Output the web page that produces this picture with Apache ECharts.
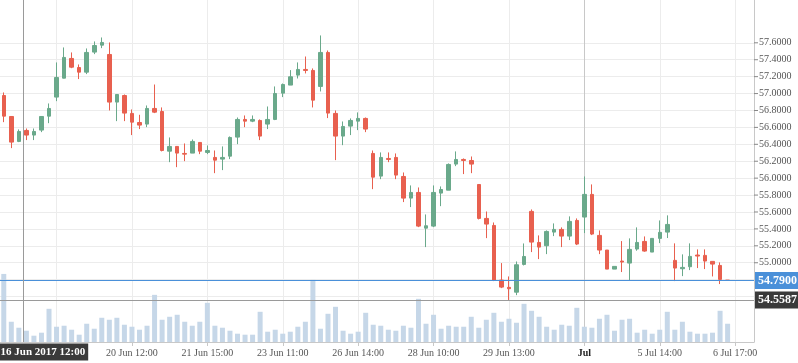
<!DOCTYPE html>
<html><head><meta charset="utf-8">
<script src="https://cdn.jsdelivr.net/npm/echarts@6/dist/echarts.min.js"></script>
<style>html,body{margin:0;padding:0;background:#fff}#c{width:798px;height:363px}</style>
</head><body><div id="c"></div>
<script>
// candle values: [open, close, low, high]
const ohlc = [
[56.977,56.733,56.662,57.013],[56.729,56.426,56.355,56.73],[56.434,56.552,56.426,56.576],[56.564,56.509,56.45,56.587],
[56.509,56.552,56.45,56.587],[56.568,56.729,56.544,56.73],[56.733,56.824,56.65,56.883],[56.958,57.19,56.91,57.368],
[57.182,57.427,57.18,57.545],[57.415,57.312,57.30,57.486],[57.308,57.253,57.171,57.344],[57.253,57.486,57.23,57.533],
[57.49,57.568,57.466,57.616],[57.572,57.604,57.537,57.663],[57.462,56.899,56.80,57.604],[56.899,56.989,56.674,56.99],
[56.977,56.769,56.674,56.989],[56.765,56.662,56.509,56.812],[56.658,56.627,56.58,56.749],[56.639,56.824,56.603,56.859],
[56.824,56.78,56.769,57.107],[56.788,56.327,56.316,56.836],[56.319,56.375,56.189,56.481],[56.375,56.296,56.13,56.375],
[56.292,56.284,56.201,56.41],[56.296,56.434,56.296,56.457],[56.422,56.319,56.284,56.422],[56.304,56.327,56.284,56.386],
[56.245,56.213,56.059,56.327],[56.225,56.245,56.095,56.375],[56.26,56.481,56.225,56.493],[56.485,56.694,56.402,56.717],
[56.694,56.674,56.603,56.741],[56.674,56.694,56.662,56.741],[56.682,56.497,56.45,56.694],[56.639,56.694,56.58,56.847],
[56.694,57.001,56.686,57.084],[57.005,57.107,56.958,57.119],[57.10,57.198,57.10,57.277],[57.218,57.285,57.178,57.368],
[57.285,57.273,57.238,57.438],[57.273,56.922,56.836,57.297],[57.084,57.486,57.025,57.687],[57.486,56.769,56.71,57.509],
[56.765,56.497,56.213,56.80],[56.497,56.611,56.39,56.67],[56.615,56.682,56.509,56.706],[56.674,56.706,56.568,56.777],
[56.706,56.58,56.544,56.717],[56.292,56.012,55.87,56.327],[56.024,56.245,55.988,56.304],[56.233,56.221,56.189,56.304],
[56.245,56.036,55.988,56.292],[56.02,55.764,55.717,56.067],[55.764,55.831,55.658,55.914],[55.831,55.433,55.421,55.89],
[55.409,55.437,55.185,55.571],[55.433,55.831,55.421,55.914],[55.823,55.866,55.669,55.902],[55.858,56.162,55.858,56.174],
[56.166,56.221,56.142,56.316],[56.221,56.209,56.048,56.233],[56.209,56.166,56.059,56.256],[55.925,55.524,55.512,55.925],
[55.524,55.457,55.291,55.606],[55.441,54.795,54.783,55.476],[54.795,54.712,54.70,54.996],[54.709,54.693,54.56,54.838],
[54.652,54.976,54.617,55.015],[54.98,55.074,54.968,55.228],[55.607,55.244,55.126,55.63],[55.24,55.185,55.043,55.323],
[55.201,55.37,55.102,55.382],[55.362,55.394,55.315,55.465],[55.394,55.315,55.185,55.418],[55.315,55.489,55.268,55.548],
[55.50,55.221,55.209,55.524],[55.54,55.808,55.351,56.02],[55.808,55.339,55.327,55.926],[55.323,55.15,55.102,55.382],
[55.15,54.925,54.925,55.15],[54.925,54.957,54.925,54.957],[55.02,55.008,54.89,55.256],[54.996,55.158,54.787,55.288],
[55.162,55.24,55.142,55.418],[55.252,55.138,55.13,55.311],[55.126,55.288,55.126,55.292],[55.288,55.359,55.232,55.50],
[55.362,55.453,55.292,55.56],[55.028,54.937,54.783,55.229],[54.929,54.945,54.842,55.099],[54.953,55.075,54.913,55.229],
[55.091,55.079,54.937,55.158],[55.087,55.02,54.925,55.158],[55.016,54.984,54.838,55.016],[54.968,54.803,54.748,55.004],
[54.795,54.79,54.788,54.795]
];
const volume = [205,61,43,34,19,28,100,46,49,37,22,55,40,73,67,73,52,46,37,49,
142,67,76,82,61,49,61,118,49,43,34,25,22,22,91,31,37,25,31,46,
61,187,40,85,106,34,25,31,88,52,49,37,34,49,43,130,55,82,40,49,
46,46,76,43,67,88,61,70,58,115,94,76,46,37,52,49,103,46,43,70,
82,34,67,70,28,37,25,37,91,37,61,31,25,25,28,94,55];
const slotCount = 100;                 // candle slots on the time axis (incl. right padding)
const gridSlots = [7,17,27,37,47,57,67,87,97];
const tickSlots = [17,27,37,47,57,67,77,87,97];
const tickLabels = ['20 Jun 12:00','21 Jun 15:00','23 Jun 11:00','26 Jun 14:00','28 Jun 10:00','29 Jun 13:00','Jul','5 Jul 14:00','6 Jul 17:00'];
const monthSlot = 77;
const priceMin = 54.4, priceMax = 57.6, priceStep = 0.2, priceGridMin = 54.6, priceLabelMin = 55.0;
const volumeMax = 1030;
const lastPrice = 54.79;
const crosshairPrice = 54.5587;
const crosshairSlot = 2.6;
const crosshairTime = '16 Jun 2017 12:00';

const cats = [];
for (let i = 0; i < slotCount; i++) cats.push('s' + i);
const labelAt = {};
tickSlots.forEach((s, j) => { labelAt[s] = tickLabels[j]; });

// horizontal grid line colours, one per price tick from priceMin upward
const hLineColors = [];
for (let p = priceMin; p <= priceMax + 1e-9; p += priceStep) hLineColors.push(p < priceGridMin - 1e-6 ? 'rgba(0,0,0,0)' : '#ececec');

const GREEN = '#6aa98b', RED = '#e8604f', BLUE = '#4a90d9', DARK = '#3a3a3a', CROSS = '#9a9a9a';
const FONT = 'Liberation Serif';
const boxLabel = (bg) => ({show: true, position: 'end', distance: 1, backgroundColor: bg, color: '#fff',
  fontFamily: FONT, fontSize: 12, fontWeight: 'bold', padding: [3, 3, 2, 3]});

const chart = echarts.init(document.getElementById('c'), null, {renderer: 'canvas'});
chart.setOption({
  animation: false,
  backgroundColor: '#fff',
  grid: [
    {left: 0, right: 44, top: 42.8, height: 270.7},
    {left: 0, right: 44, top: 0, bottom: 21}
  ],
  xAxis: [
    {type: 'category', gridIndex: 0, data: cats, boundaryGap: true, show: false},
    {type: 'category', gridIndex: 1, data: cats, boundaryGap: true,
      axisLine: {show: true, onZero: false, lineStyle: {color: '#c8c8c8', width: 1}},
      axisTick: {show: true, alignWithLabel: true, length: 4, interval: (i) => labelAt[i] !== undefined, lineStyle: {color: '#c8c8c8'}},
      axisLabel: {show: true, interval: (i) => labelAt[i] !== undefined, margin: 6,
        color: '#555', fontFamily: FONT, fontSize: 10,
        formatter: (v, i) => { const t = labelAt[i]; if (t === undefined) return ''; return i === monthSlot ? '{b|' + t + '}' : t; },
        rich: {b: {fontFamily: FONT, fontSize: 10, fontWeight: 'bold', color: '#222'}}},
      splitLine: {show: false}
    },
    {type: 'value', gridIndex: 1, min: -0.5, max: slotCount - 0.5, show: false, axisLine: {onZero: false}}
  ],
  yAxis: [
    {type: 'value', gridIndex: 0, position: 'right', min: priceMin, max: priceMax, interval: priceStep,
      axisLine: {show: false, onZero: false},
      axisTick: {show: false},
      axisLabel: {show: true, margin: 0, color: '#555', fontFamily: FONT, fontSize: 10,
        formatter: (v) => v >= priceLabelMin - 0.01 ? '{t| }{v|' + v.toFixed(4) + '}' : '',
        rich: {
          t: {width: 4, height: 1, backgroundColor: '#888', fontSize: 10},
          v: {fontFamily: FONT, fontSize: 10, color: '#555', padding: [0, 0, 0, 1]}
        }},
      splitLine: {show: true, lineStyle: {color: hLineColors, width: 1}}
    },
    {type: 'value', gridIndex: 1, position: 'right', min: 0, max: volumeMax,
      axisLine: {show: true, onZero: false, lineStyle: {color: '#c8c8c8', width: 1}},
      axisTick: {show: false}, axisLabel: {show: false}, splitLine: {show: false}
    }
  ],
  series: [
    {type: 'line', xAxisIndex: 2, yAxisIndex: 1, data: [], silent: true, z: 1,
      markLine: {silent: true, z: 1, symbol: ['none', 'none'], animation: false,
        lineStyle: {color: '#ececec', width: 1, type: 'solid'}, label: {show: false},
        data: gridSlots.map(s => ({xAxis: s}))}
    },
    {type: 'line', xAxisIndex: 2, yAxisIndex: 1, data: [], silent: true, z: 1,
      markLine: {silent: true, z: 1, symbol: ['none', 'none'], animation: false,
        lineStyle: {color: '#c8c8c8', width: 1, type: 'solid'}, label: {show: false},
        data: [{xAxis: monthSlot}]}
    },
    {type: 'bar', xAxisIndex: 1, yAxisIndex: 1, data: volume, barWidth: 5, silent: true,
      itemStyle: {color: '#c6d7e8'}},
    {type: 'candlestick', xAxisIndex: 0, yAxisIndex: 0, data: ohlc, barWidth: 4, clip: false, silent: true,
      itemStyle: {color: GREEN, color0: RED, borderColor: GREEN, borderColor0: RED, borderWidth: 1}},
    {type: 'line', xAxisIndex: 0, yAxisIndex: 0, data: [], silent: true,
      markLine: {silent: true, symbol: ['none', 'none'], animation: false,
        lineStyle: {color: BLUE, width: 1, type: 'solid'},
        label: Object.assign(boxLabel(BLUE), {formatter: lastPrice.toFixed(4)}),
        data: [{yAxis: lastPrice}]}
    },
    {type: 'line', xAxisIndex: 0, yAxisIndex: 0, data: [], silent: true,
      markLine: {silent: true, symbol: ['none', 'none'], animation: false,
        lineStyle: {color: CROSS, width: 1, type: 'solid'},
        label: Object.assign(boxLabel(DARK), {formatter: crosshairPrice.toFixed(4)}),
        data: [{yAxis: crosshairPrice}]}
    },
    {type: 'line', xAxisIndex: 2, yAxisIndex: 1, data: [], silent: true,
      markLine: {silent: true, symbol: ['none', 'none'], animation: false,
        lineStyle: {color: CROSS, width: 1, type: 'solid'}, label: {show: false},
        data: [{xAxis: crosshairSlot}]},
      markPoint: {silent: true, animation: false, symbol: 'rect', symbolSize: 1, itemStyle: {color: 'rgba(0,0,0,0)'},
        data: [{coord: [crosshairSlot, 0], value: 0,
          label: {show: true, position: 'bottom', distance: 1, offset: [19.5, 0], formatter: crosshairTime,
            backgroundColor: DARK, color: '#fff', fontFamily: FONT, fontSize: 11, fontWeight: 'bold', padding: [3, 3, 3, 3]}}]}
    }
  ]
});
</script>
</body></html>
